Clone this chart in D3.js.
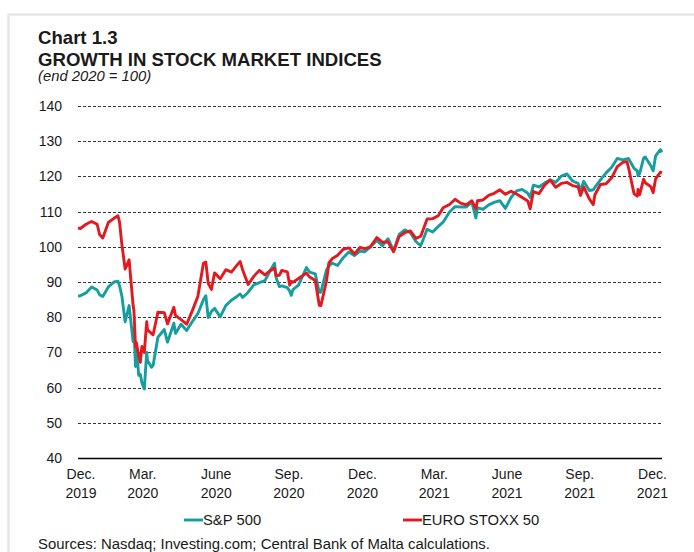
<!DOCTYPE html>
<html>
<head>
<meta charset="utf-8">
<script src="https://cdn.jsdelivr.net/npm/d3@7/dist/d3.min.js"></script>
<style>
	body { margin: 0; background: #fff; }
	text { font-family: "Liberation Sans", Arial, sans-serif; fill: #1a1a1a; }
</style>
</head>
<body>
<div id="js_chart"></div>
<script>
// observation dates (weekly closes plus a few intra-week turning points)
const dates = [
	'2019-12-31','2020-01-03','2020-01-10','2020-01-17','2020-01-24','2020-01-27','2020-01-31','2020-02-07',
	'2020-02-14','2020-02-19','2020-02-21','2020-02-24','2020-02-28','2020-03-04','2020-03-06','2020-03-09',
	'2020-03-10','2020-03-12','2020-03-13','2020-03-16','2020-03-18','2020-03-20','2020-03-23','2020-03-26',
	'2020-03-27','2020-04-01','2020-04-03','2020-04-09','2020-04-17','2020-04-21','2020-04-29','2020-05-01',
	'2020-05-08','2020-05-15','2020-05-22','2020-05-29','2020-06-05','2020-06-08','2020-06-11','2020-06-15',
	'2020-06-19','2020-06-26','2020-07-03','2020-07-10','2020-07-17','2020-07-21','2020-07-24','2020-07-31',
	'2020-08-07','2020-08-14','2020-08-21','2020-08-28','2020-09-02','2020-09-04','2020-09-08','2020-09-11',
	'2020-09-18','2020-09-21','2020-09-23','2020-09-25','2020-10-02','2020-10-09','2020-10-12','2020-10-16',
	'2020-10-23','2020-10-28','2020-10-30','2020-11-06','2020-11-09','2020-11-13','2020-11-20','2020-11-27',
	'2020-12-04','2020-12-11','2020-12-18','2020-12-24','2020-12-31','2021-01-08','2021-01-15','2021-01-22',
	'2021-01-29','2021-02-05','2021-02-12','2021-02-19','2021-02-26','2021-03-04','2021-03-12','2021-03-19',
	'2021-03-26','2021-04-01','2021-04-09','2021-04-16','2021-04-23','2021-04-30','2021-05-07','2021-05-12',
	'2021-05-14','2021-05-21','2021-05-28','2021-06-04','2021-06-11','2021-06-18','2021-06-25','2021-07-02',
	'2021-07-09','2021-07-16','2021-07-19','2021-07-23','2021-07-30','2021-08-06','2021-08-13','2021-08-20',
	'2021-08-27','2021-09-03','2021-09-10','2021-09-17','2021-09-20','2021-09-24','2021-10-01','2021-10-06',
	'2021-10-08','2021-10-15','2021-10-22','2021-10-29','2021-11-05','2021-11-12','2021-11-17','2021-11-19',
	'2021-11-26','2021-11-30','2021-12-01','2021-12-03','2021-12-08','2021-12-10','2021-12-17','2021-12-20',
	'2021-12-23','2021-12-29','2021-12-31'
];

const sp500 = [
	86.0, 86.1, 86.9, 88.6, 87.7, 86.4, 85.9, 88.6,
	90.0, 90.2, 88.9, 85.9, 78.7, 83.3, 79.1, 73.1,
	76.7, 66.0, 72.2, 63.5, 63.8, 61.4, 59.6, 70.0,
	67.7, 65.8, 66.3, 74.3, 76.5, 72.9, 78.3, 75.4,
	78.0, 76.2, 78.7, 81.0, 85.0, 86.1, 79.9, 81.6,
	82.5, 80.1, 83.3, 84.8, 85.9, 86.6, 85.6, 87.1,
	89.2, 89.8, 90.4, 93.4, 95.3, 91.2, 88.7, 88.9,
	88.4, 87.4, 86.2, 87.8, 89.1, 92.6, 94.1, 92.8,
	92.3, 87.1, 87.1, 93.4, 94.5, 95.4, 94.7, 96.9,
	98.5, 97.5, 98.8, 98.6, 100.0, 101.8, 100.3, 102.3,
	98.9, 103.5, 104.8, 104.0, 101.5, 100.3, 105.0, 104.2,
	105.8, 107.0, 109.9, 111.4, 111.3, 111.3, 112.7, 108.2,
	111.1, 110.6, 111.9, 112.6, 113.1, 110.9, 114.0, 115.9,
	116.3, 115.2, 114.0, 117.5, 117.0, 118.1, 119.0, 118.3,
	120.1, 120.7, 118.7, 118.0, 116.0, 118.6, 116.0, 116.2,
	116.9, 119.0, 121.0, 122.6, 125.1, 124.7, 125.0, 125.1,
	122.3, 121.6, 120.2, 120.8, 125.2, 125.5, 123.0, 121.6,
	125.8, 127.6, 126.9
];

const euroStoxx = [
	105.4, 105.2, 106.4, 107.2, 106.4, 103.5, 102.5, 106.9,
	108.1, 108.8, 107.0, 100.5, 93.7, 96.3, 91.0, 83.3,
	82.0, 71.6, 72.8, 69.0, 67.2, 71.7, 70.0, 78.7,
	76.4, 75.4, 75.0, 81.4, 81.3, 78.1, 82.8, 80.5,
	79.3, 78.0, 81.8, 85.9, 95.3, 95.7, 89.6, 87.9,
	92.6, 90.9, 93.5, 92.8, 94.8, 95.8, 93.5, 89.3,
	91.6, 93.3, 92.0, 93.3, 93.9, 91.8, 91.9, 93.3,
	92.9, 89.1, 90.2, 89.9, 91.0, 92.1, 92.5, 91.4,
	90.4, 83.4, 83.3, 90.2, 95.4, 96.6, 97.6, 99.3,
	99.7, 98.0, 99.8, 99.5, 100.0, 102.6, 101.3, 101.4,
	98.6, 102.9, 104.0, 104.5, 102.4, 103.0, 107.9, 108.0,
	108.8, 111.1, 112.0, 113.5, 112.4, 111.9, 113.1, 110.8,
	113.1, 113.3, 114.6, 115.2, 116.2, 114.9, 115.8, 115.0,
	114.0, 113.0, 110.8, 115.7, 115.1, 117.5, 119.0, 116.9,
	118.0, 118.3, 117.4, 117.0, 114.6, 117.0, 113.6, 112.0,
	114.8, 117.7, 117.9, 119.6, 122.8, 124.0, 124.2, 122.6,
	115.1, 114.4, 116.3, 114.8, 119.2, 118.2, 117.1, 115.4,
	119.3, 121.2, 121.0
];

const seriesNames = ['S&P 500', 'EURO STOXX 50'];
const seriesColors = ['#169e9f', '#e3191f'];
const yTicks = [40, 50, 60, 70, 80, 90, 100, 110, 120, 130, 140];
const xTickDates = ['2019-12-21','2020-03-21','2020-06-21','2020-09-20','2020-12-21',
	'2021-03-21','2021-06-20','2021-09-19','2021-12-19'];
const xTickLabels = [['Dec.','2019'],['Mar.','2020'],['June','2020'],['Sep.','2020'],['Dec.','2020'],
	['Mar.','2021'],['June','2021'],['Sep.','2021'],['Dec.','2021']];

var Chart13 = function(){
	'use strict';
	let chart = {};
	let svg;
	const width = 694;
	const height = 552;
	let margin = { top: 106, bottom: 94, right: 32, left: 78 };
	const parse = d3.utcParse('%Y-%m-%d');
	const innerWidth = width - margin.left - margin.right;
	const innerHeight = height - margin.top - margin.bottom;

	let x = d3.scaleUtc()
		.domain([parse(dates[0]), parse(dates[dates.length - 1])])
		.range([0, innerWidth]);
	let y = d3.scaleLinear()
		.domain([yTicks[0], yTicks[yTicks.length - 1]])
		.range([innerHeight, 0]);

	function drawFrame() {
		d3.select('#js_chart').selectAll('svg').remove();
		let root = d3.select('#js_chart').append('svg')
			.attr('width', width)
			.attr('height', height);
		root.append('rect')
			.attr('x', 8.5).attr('y', 14.5)
			.attr('width', 720).attr('height', 600)
			.style('fill', 'none')
			.style('stroke', '#e6e6e6')
			.style('stroke-width', 2.5);
		root.append('text')
			.attr('x', 38).attr('y', 44)
			.style('font-size', '18.6px').style('font-weight', 'bold')
			.text('Chart 1.3');
		root.append('text')
			.attr('x', 38).attr('y', 65.5)
			.style('font-size', '18.6px').style('font-weight', 'bold')
			.text('GROWTH IN STOCK MARKET INDICES');
		root.append('text')
			.attr('x', 38).attr('y', 81)
			.style('font-size', '14.8px').style('font-style', 'italic')
			.text('(end 2020 = 100)');
		root.append('text')
			.attr('x', 38).attr('y', 549)
			.style('font-size', '14.9px')
			.text('Sources: Nasdaq; Investing.com; Central Bank of Malta calculations.');
		svg = root.append('g')
			.attr('transform', 'translate(' + margin.left + ',' + margin.top + ')');
	}

	function drawGrid() {
		// dashed gridlines, solid base line at 40
		svg.selectAll('.grid')
			.data(yTicks).enter().append('line')
			.attr('x1', 0).attr('x2', innerWidth)
			.attr('y1', function (d) { return Math.round(y(d)) + 0.5; })
			.attr('y2', function (d) { return Math.round(y(d)) + 0.5; })
			.style('stroke', function (d, i) { return i === 0 ? '#000' : '#333'; })
			.style('stroke-width', function (d, i) { return i === 0 ? 1.6 : 1; })
			.style('stroke-dasharray', function (d, i) { return i === 0 ? null : '3,2'; });
		let yAxis = d3.axisLeft(y).tickValues(yTicks).tickSize(0).tickPadding(16);
		let gy = svg.append('g').call(yAxis);
		gy.select('.domain').remove();
		gy.selectAll('text')
			.style('font-family', '"Liberation Sans", Arial, sans-serif')
			.style('font-size', '14px')
			.style('fill', '#1a1a1a');
	}

	function drawXLabels() {
		let labels = svg.selectAll('.xlab')
			.data(xTickDates).enter().append('text')
			.attr('text-anchor', 'middle')
			.style('font-size', '14px')
			.attr('transform', function (d) {
				let px = Math.max(x(parse(d)), 3);
				return 'translate(' + px + ',' + (innerHeight + 21) + ')';
			});
		labels.append('tspan').attr('x', 0).attr('y', 0)
			.text(function (d, i) { return xTickLabels[i][0]; });
		labels.append('tspan').attr('x', 0).attr('y', 19)
			.text(function (d, i) { return xTickLabels[i][1]; });
	}

	function drawLines() {
		const series = [sp500, euroStoxx];
		let line = d3.line()
			.x(function (d, i) { return x(parse(dates[i])); })
			.y(function (d) { return y(d); });
		svg.selectAll('.series')
			.data(series).enter().append('path')
			.attr('d', function (d) { return line(d); })
			.style('fill', 'none')
			.style('stroke', function (d, i) { return seriesColors[i]; })
			.style('stroke-width', 2.9)
			.style('stroke-linejoin', 'round');
	}

	function drawLegend() {
		const legendX = [106, 325];
		let items = svg.selectAll('.legend')
			.data(seriesNames).enter().append('g')
			.attr('transform', function (d, i) {
				return 'translate(' + legendX[i] + ',' + (innerHeight + 62) + ')';
			});
		items.append('line')
			.attr('x1', 0).attr('x2', 19)
			.attr('y1', 0).attr('y2', 0)
			.style('stroke', function (d, i) { return seriesColors[i]; })
			.style('stroke-width', 2.9);
		items.append('text')
			.attr('x', 19).attr('y', 5)
			.style('font-size', '14.8px')
			.text(function (d) { return d; });
	}

	chart.render = function () {
		drawFrame();
		drawGrid();
		drawLines();
		drawXLabels();
		drawLegend();
	};

	return chart;
};

Chart13().render();
</script>
</body>
</html>
